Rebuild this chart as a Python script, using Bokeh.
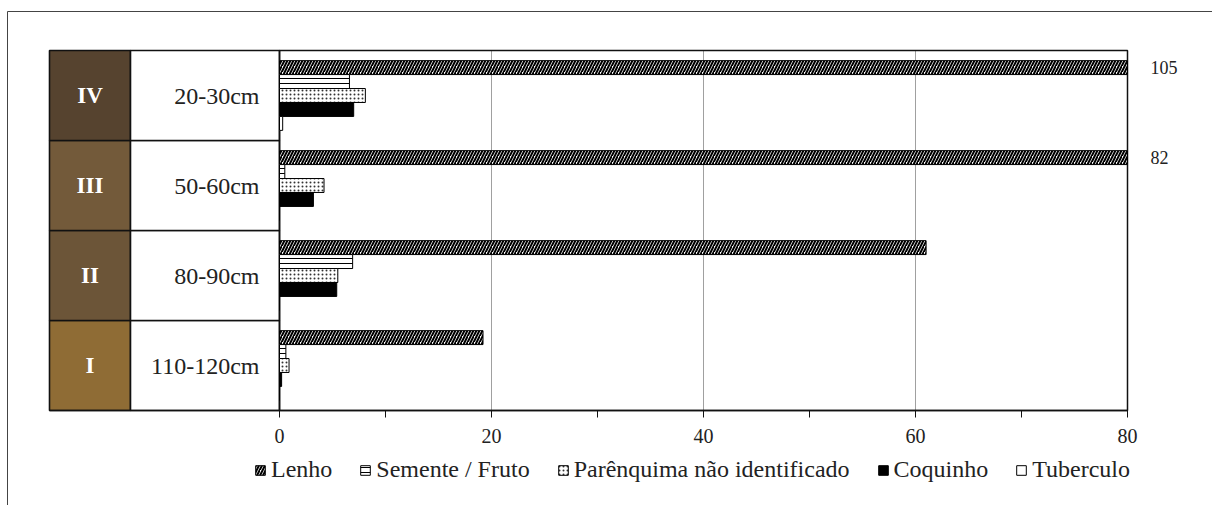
from bokeh.plotting import figure
from bokeh.models import Range1d, FixedTicker, Legend, LegendItem, ColumnDataSource
from bokeh.core.properties import value
from bokeh.embed import file_html
from bokeh.resources import INLINE

# ---------------- data ----------------
groups = ["I", "II", "III", "IV"]
depths = ["110-120cm", "80-90cm", "50-60cm", "20-30cm"]
group_colors = ["#8f6c35", "#6c5538", "#735a3a", "#56432f"]
series = ["Lenho", "Semente / Fruto", "Parênquima não identificado", "Coquinho", "Tuberculo"]
lenho = [19.2, 61, 82, 105]
semente = [0.6, 6.9, 0.5, 6.6]
parenquima = [0.9, 5.5, 4.2, 8.1]
coquinho = [0.2, 5.4, 3.2, 7.0]
tuberculo = [0, 0, 0, 0.3]
x_ticks = [0, 20, 40, 60, 80]
x_minor = [10, 30, 50, 70]
x_max = 80

FONT = "Liberation Serif"

# ---------------- layout constants (screen pixels -> data) ----------------
PX = 10.6          # px per x unit
PY = 90.0          # px per group
X0, Y0 = 279, 410  # screen position of x=0, y=0
def dx(px):
    return (px - X0) / PX
def dy(py):
    return (Y0 - py) / PY

W, H = 1212, 505
p = figure(width=W, height=H, output_backend="svg", toolbar_location=None,
           x_range=Range1d(dx(0), dx(W)), y_range=Range1d(dy(H), dy(0)),
           y_axis_location=None,
           min_border_left=0, min_border_right=0, min_border_top=0, min_border_bottom=0)
p.outline_line_color = None
p.background_fill_color = "white"
p.border_fill_color = "white"
p.grid.visible = False

n = len(groups)
centers = [i + 0.5 for i in range(n)]
TABLE_LEFT, TABLE_SPLIT = dx(49), dx(130)

# outer frame (top + left)
p.segment(x0=[dx(7), dx(7)], y0=[dy(11), dy(11)], x1=[dx(W), dx(7)], y1=[dy(11), dy(H)],
          line_color="#444", line_width=1)

# vertical grid lines
grid_x = [t for t in x_ticks if 0 < t < x_max]
p.segment(x0=grid_x, y0=[0] * len(grid_x), x1=grid_x, y1=[n] * len(grid_x),
          line_color="#a0a0a0", line_width=1)

# axis (drawn at y = 0 inside the frame)
ax = p.xaxis[0]
ax.fixed_location = 0
ax.ticker = FixedTicker(ticks=x_ticks, minor_ticks=x_minor)
ax.bounds = (TABLE_LEFT, x_max)
ax.axis_line_color = "#111"
ax.axis_line_width = 1.5
ax.major_tick_out = 7
ax.major_tick_in = 0
ax.minor_tick_out = 7
ax.minor_tick_in = 0
ax.major_tick_line_color = "#111"
ax.minor_tick_line_color = "#111"
ax.major_label_text_font = FONT
ax.major_label_text_font_size = "20px"
ax.major_label_text_color = "#222"
ax.major_label_standoff = 11

# table cells
p.quad(left=[TABLE_LEFT] * n, right=[TABLE_SPLIT] * n, bottom=list(range(n)), top=[i + 1 for i in range(n)],
       fill_color=group_colors, line_color="#111", line_width=1.6)
p.quad(left=[TABLE_SPLIT] * n, right=[0] * n, bottom=list(range(n)), top=[i + 1 for i in range(n)],
       fill_color="white", line_color="#111", line_width=1.6)
# plot-area frame
p.quad(left=[0], right=[x_max], bottom=[0], top=[n], fill_color=None, line_color="#111", line_width=1.5)

p.text(x=[(TABLE_LEFT + TABLE_SPLIT) / 2] * n, y=centers, text=groups,
       text_font=value(FONT), text_font_size="23px", text_font_style="bold",
       text_color="white", text_align="center", text_baseline="middle")
p.text(x=[dx(259)] * n, y=centers, text=depths,
       text_font=value(FONT), text_font_size="24px", text_color="#222",
       text_align="right", text_baseline="middle")

# bars
BAR_H = 0.155
offsets = [0.31, 0.155, 0.0, -0.155, -0.31]
values = [lenho, semente, parenquima, coquinho, tuberculo]
styles = [
    dict(fill_color="white", hatch_pattern="/", hatch_color="black", hatch_scale=6, hatch_weight=2),
    dict(fill_color="white", hatch_pattern="-", hatch_color="black", hatch_scale=5, hatch_weight=1),
    dict(fill_color="white", hatch_pattern=".", hatch_color="#333", hatch_scale=4, hatch_weight=0.8),
    dict(fill_color="black"),
    dict(fill_color="white"),
]
items = []
for name, vals, off, st in zip(series, values, offsets, styles):
    src = ColumnDataSource(dict(y=[c + off for c in centers], right=[min(v, x_max) for v in vals]))
    r = p.hbar(y="y", left=0, right="right", height=BAR_H, source=src,
               line_color="black", line_width=1, **st)
    items.append(LegendItem(label=name, renderers=[r]))

# overflow labels
ov_x, ov_y, ov_t = [], [], []
for c, v in zip(centers, lenho):
    if v > x_max:
        ov_x.append(dx(1150))
        ov_y.append(c + offsets[0])
        ov_t.append(f"{v:g}")
p.text(x=ov_x, y=ov_y, text=ov_t, text_font=value(FONT), text_font_size="18px",
       text_color="#222", text_align="left", text_baseline="middle")

legend = Legend(items=items, orientation="horizontal", location=(254, 22),
                label_text_font=FONT, label_text_font_size="24px", label_text_color="#222",
                glyph_width=12, glyph_height=12, label_standoff=5, spacing=27,
                border_line_color=None, background_fill_alpha=0, padding=2, margin=0)
p.add_layout(legend, "center")

open("out.html", "w").write(file_html(p, INLINE))
